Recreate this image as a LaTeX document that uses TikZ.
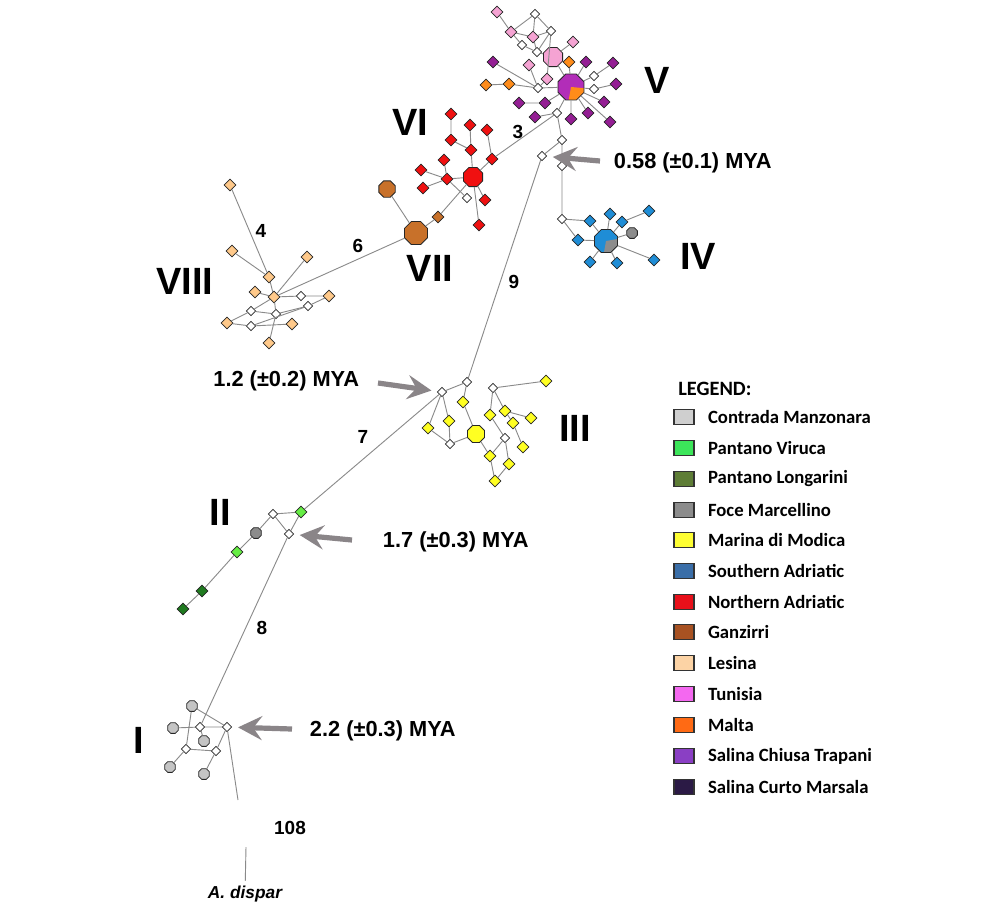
\documentclass[tikz,border=0pt]{standalone}
\usepackage{fontspec}
\setmainfont{Liberation Sans}
\newfontfamily\legfont{Carlito}
\usetikzlibrary{arrows.meta,positioning,shapes.geometric}

\definecolor{edgegray}{HTML}{8A8A8A}
\definecolor{arrowgray}{HTML}{8A8588}
\definecolor{manzN}{HTML}{C4C4C4}
\definecolor{virucaN}{HTML}{66EE44}
\definecolor{longN}{HTML}{1F7A1F}
\definecolor{foceN}{HTML}{8C8C8C}
\definecolor{modicaN}{HTML}{FFFF22}
\definecolor{sadrN}{HTML}{1F8DD6}
\definecolor{nadrN}{HTML}{F01010}
\definecolor{ganzN}{HTML}{C8712A}
\definecolor{lesN}{HTML}{FFC98A}
\definecolor{tunN}{HTML}{F5A3D3}
\definecolor{maltaN}{HTML}{FF8C1A}
\definecolor{chiusaN}{HTML}{941E94}
\definecolor{centreN}{HTML}{B22DB8}
\definecolor{manzL}{HTML}{CFCFCF}
\definecolor{virucaL}{HTML}{3CE65A}
\definecolor{longL}{HTML}{5E7D36}
\definecolor{foceL}{HTML}{8C8C8C}
\definecolor{modicaL}{HTML}{FFFF33}
\definecolor{sadrL}{HTML}{3A6EA8}
\definecolor{nadrL}{HTML}{E8101A}
\definecolor{ganzL}{HTML}{A85222}
\definecolor{lesL}{HTML}{FCD3A5}
\definecolor{tunL}{HTML}{F468F0}
\definecolor{maltaL}{HTML}{FF6A14}
\definecolor{chiusaL}{HTML}{8A3FC4}
\definecolor{curtoL}{HTML}{2B1A45}

\begin{document}
\begin{tikzpicture}[x=0.025cm,y=-0.025cm,
hap/.style={diamond,draw=black!85,line width=0.55pt,minimum size=0.3cm,inner sep=0pt},
mv/.style={diamond,draw=black!85,line width=0.55pt,fill=white,minimum size=0.24cm,inner sep=0pt},
octa/.style={regular polygon,regular polygon sides=8,draw=black!85,line width=0.55pt,minimum size=0.29cm,inner sep=0pt},
big/.style={octa,minimum size=#1},
edge/.style={draw=edgegray,line width=0.65pt},
mya/.style={draw=arrowgray,line width=0.13cm,-{Stealth[length=0.6cm,width=0.6cm,inset=0.22cm]},shorten >=0.15cm},
clade/.style={font=\fontsize{27}{30}\selectfont\bfseries},
steps/.style={font=\fontsize{13.5}{16}\selectfont\bfseries},
age/.style={font=\fontsize{15.5}{18}\selectfont\bfseries},
legbox/.style={draw=black!80,line width=0.8pt,minimum width=0.5cm,minimum height=0.36cm,inner sep=0pt},
legtext/.style={font=\legfont\fontsize{13.3}{16}\selectfont\bfseries,inner sep=0pt,label distance=0.33cm}]

\useasboundingbox[fill=white] (0,0) rectangle (999,917);

% clade V
\node[hap,fill=tunN] (t1) at (497,12) {};
\node[mv] (v1) at (535,14) {};
\node[hap,fill=tunN] (t2) at (511,32) {};
\node[hap,fill=tunN] (t3) at (533,37) {};
\node[mv] (v2) at (551,31) {};
\node[mv] (v3) at (522,45) {};
\node[mv] (v4) at (537,52) {};
\node[hap,fill=tunN] (t4) at (573,42) {};
\node[big=0.52cm,fill=tunN] (tB) at (553,57) {};
\node[hap,fill=chiusaN] (s1) at (493,62) {};
\node[hap,fill=tunN] (t5) at (529,65) {};
\node[hap,fill=maltaN] (m1) at (569,62) {};
\node[hap,fill=chiusaN] (s2) at (586,62) {};
\node[hap,fill=chiusaN] (s3) at (613,63) {};
\node[mv] (v5) at (594,76) {};
\node[hap,fill=tunN] (t6) at (547,79) {};
\node[hap,fill=maltaN] (m2) at (486,85) {};
\node[hap,fill=maltaN] (m3) at (509,84) {};
\node[mv] (v6) at (538,88) {};
\node[big=0.7cm,fill=centreN,path picture={\fill[maltaN] (path picture bounding box.center) -- ++(-100:0.5cm) arc[start angle=-100,end angle=-5,radius=0.5cm] -- cycle;}] (cV) at (571,87) {};
\node[mv] (v7) at (594,89) {};
\node[hap,fill=chiusaN] (s4) at (616,84) {};
\node[hap,fill=chiusaN] (s5) at (519,103) {};
\node[hap,fill=chiusaN] (s6) at (545,103) {};
\node[hap,fill=chiusaN] (s7) at (604,102) {};
\node[mv] (v8) at (557,113) {};
\node[hap,fill=chiusaN] (s8) at (535,117) {};
\node[hap,fill=chiusaN] (s9) at (571,119) {};
\node[hap,fill=chiusaN] (s10) at (588,113) {};
\node[hap,fill=chiusaN] (s11) at (610,122) {};
\node[mv] (v9) at (562,140) {};
\node[mv] (v10) at (542,156) {};
\node[mv] (v11) at (562,166) {};

\draw[edge] (t1)--(t2) (v1)--(t2) (v1)--(v2) (v1)--(t3) (t2)--(t3) (t3)--(v2);
\draw[edge] (t2)--(v3) (v3)--(v4) (t3)--(v4) (v2)--(v4) (v2)--(t6) (v4)--(tB);
\draw[edge] (t4)--(tB) (tB)--(cV) (s1)--(v6) (t5)--(v6) (t6)--(v6) (m2)--(m3);
\draw[edge] (m3)--(v6) (v6)--(cV) (m1)--(cV) (s2)--(cV) (s3)--(v5) (v5)--(cV);
\draw[edge] (s4)--(v7) (v7)--(cV) (s5)--(s6) (s6)--(cV) (s7)--(cV) (s9)--(cV);
\draw[edge] (s10)--(cV) (s11)--(cV) (v8)--(s8) (v8)--(cV) (v8)--(v9);
\draw[edge] (v9)--(v10) (v9)--(v11);

% clades VI and VII
\node[hap,fill=nadrN] (r1) at (451,114) {};
\node[hap,fill=nadrN] (r2) at (470,125) {};
\node[hap,fill=nadrN] (r3) at (487,130) {};
\node[hap,fill=nadrN] (r4) at (451,140) {};
\node[hap,fill=nadrN] (r5) at (471,150) {};
\node[hap,fill=nadrN] (r6) at (492,159) {};
\node[hap,fill=nadrN] (r7) at (444,160) {};
\node[hap,fill=nadrN] (r8) at (421,170) {};
\node[big=0.52cm,fill=nadrN] (rB) at (473,177) {};
\node[hap,fill=nadrN] (r9) at (447,179) {};
\node[hap,fill=nadrN] (r10) at (423,188) {};
\node[mv] (vr) at (467,198) {};
\node[hap,fill=nadrN] (r11) at (485,200) {};
\node[hap,fill=nadrN] (r12) at (479,225) {};
\node[big=0.44cm,fill=ganzN] (br) at (387,189) {};
\node[hap,fill=ganzN] (o4) at (438,217) {};
\node[big=0.62cm,fill=ganzN] (oB) at (416,233) {};

\draw[edge] (r1)--(r4) (r2)--(r5) (r3)--(r6) (r4)--(r5) (r5)--(rB) (r6)--(rB);
\draw[edge] (r7)--(r9) (r8)--(r9) (r10)--(r9) (r9)--(rB) (r9)--(vr) (rB)--(r11);
\draw[edge] (rB)--(r12) (rB)--(o4) (o4)--(oB) (br)--(oB) (v8)--(r6);

% clade VIII
\node[hap,fill=lesN] (l1) at (230,185) {};
\node[hap,fill=lesN] (l2) at (232,251) {};
\node[hap,fill=lesN] (l3) at (307,257) {};
\node[hap,fill=lesN] (l4) at (269,277) {};
\node[hap,fill=lesN] (l5) at (255,292) {};
\node[hap,fill=lesN] (l6) at (274,297) {};
\node[mv] (vl1) at (301,296) {};
\node[hap,fill=lesN] (l7) at (329,296) {};
\node[mv] (vl2) at (251,311) {};
\node[mv] (vl3) at (276,314) {};
\node[mv] (vl4) at (308,306) {};
\node[hap,fill=lesN] (l8) at (227,323) {};
\node[mv] (vl5) at (251,326) {};
\node[hap,fill=lesN] (l9) at (292,324) {};
\node[hap,fill=lesN] (l10) at (269,343) {};

\draw[edge] (l1)--(l4) (l2)--(l4) (l4)--(l6) (l5)--(l6) (l3)--(l6) (l6)--(vl1);
\draw[edge] (vl1)--(l7) (l6)--(vl2) (vl2)--(l8) (vl2)--(vl3) (vl3)--(vl4) (vl4)--(l7);
\draw[edge] (l8)--(vl5) (vl5)--(l9) (vl5)--(vl4) (l6)--(vl3) (vl3)--(l10) (l6)--(oB);

% clade IV
\node[mv] (vb) at (562,219) {};
\node[hap,fill=sadrN] (b1) at (590,221) {};
\node[hap,fill=sadrN] (b2) at (610,214) {};
\node[hap,fill=sadrN] (b3) at (622,222) {};
\node[hap,fill=sadrN] (b4) at (649,211) {};
\node[octa,fill=foceN] (gm) at (632,233) {};
\node[hap,fill=sadrN] (b5) at (578,240) {};
\node[big=0.62cm,fill=sadrN,path picture={\fill[foceN] (path picture bounding box.center) -- ++(-100:0.5cm) arc[start angle=-100,end angle=10,radius=0.5cm] -- cycle;}] (bB) at (606,241) {};
\node[hap,fill=sadrN] (b6) at (590,262) {};
\node[hap,fill=sadrN] (b7) at (617,263) {};
\node[hap,fill=sadrN] (b8) at (654,260) {};

\draw[edge] (v11)--(vb) (vb)--(b1) (b1)--(bB) (vb)--(b5) (b5)--(bB) (b2)--(bB);
\draw[edge] (b3)--(bB) (b3)--(b4) (gm)--(bB) (b8)--(bB) (b6)--(bB) (b7)--(bB);

% clade III
\node[mv] (vy1) at (442,392) {};
\node[mv] (vy2) at (467,382) {};
\node[mv] (vy3) at (493,388) {};
\node[hap,fill=modicaN] (y1) at (546,381) {};
\node[hap,fill=modicaN] (y2) at (463,402) {};
\node[hap,fill=modicaN] (y3) at (490,415) {};
\node[hap,fill=modicaN] (y4) at (505,411) {};
\node[hap,fill=modicaN] (y5) at (449,421) {};
\node[hap,fill=modicaN] (y6) at (513,423) {};
\node[hap,fill=modicaN] (y7) at (531,418) {};
\node[hap,fill=modicaN] (y8) at (428,428) {};
\node[big=0.46cm,fill=modicaN] (yB) at (476,434) {};
\node[mv] (vy4) at (505,438) {};
\node[mv] (vy5) at (450,444) {};
\node[hap,fill=modicaN] (y9) at (523,447) {};
\node[hap,fill=modicaN] (y10) at (490,456) {};
\node[hap,fill=modicaN] (y11) at (509,464) {};
\node[hap,fill=modicaN] (y12) at (495,481) {};

\draw[edge] (v10)--(vy2) (vy1)--(vy2) (vy1)--(y8) (vy1)--(y5) (y5)--(vy5) (y8)--(vy5);
\draw[edge] (vy5)--(yB) (vy2)--(y2) (y2)--(yB) (yB)--(y10) (vy3)--(y3) (vy3)--(y4);
\draw[edge] (vy3)--(y1) (y4)--(y7) (y4)--(y6) (y6)--(y9) (y3)--(vy4) (vy4)--(y10);
\draw[edge] (vy4)--(y11) (y10)--(y12) (y11)--(y12);

% clade II
\node[mv] (vg1) at (273,514) {};
\node[hap,fill=virucaN] (g1) at (301,512) {};
\node[mv] (vg2) at (289,534) {};
\node[octa,fill=foceN] (gf) at (256,533) {};
\node[hap,fill=virucaN] (g2) at (237,552) {};
\node[hap,fill=longN] (g3) at (202,591) {};
\node[hap,fill=longN] (g4) at (183,609) {};

\draw[edge] (g1)--(vy1) (g1)--(vg1) (vg1)--(vg2) (g1)--(vg2) (vg1)--(gf);
\draw[edge] (gf)--(g2) (g2)--(g3) (g3)--(g4);

% clade I and outgroup
\node[octa,fill=manzN] (c1) at (192,706) {};
\node[octa,fill=manzN] (c2) at (173,728) {};
\node[mv] (vc1) at (200,727) {};
\node[mv] (vc2) at (227,727) {};
\node[octa,fill=manzN] (c3) at (204,741) {};
\node[mv] (vc3) at (186,749) {};
\node[mv] (vc4) at (216,751) {};
\node[octa,fill=manzN] (c4) at (170,767) {};
\node[octa,fill=manzN] (c5) at (204,774) {};
\coordinate (og1) at (238,800);
\coordinate (og2) at (246,847);
\node[font=\fontsize{12.3}{14}\selectfont\bfseries\itshape] (disp) at (245,894) {A. dispar};

\draw[edge] (vg2)--(vc1) (c1)--(vc2) (c1)--(vc3) (c2)--(vc1) (vc1)--(vc2) (vc1)--(c3);
\draw[edge] (vc3)--(vc4) (vc2)--(vc4) (vc3)--(c4) (vc4)--(c5) (vc2)--(og1) (og2)--(disp);

% clade names and mutation steps
\node[clade] (nV) at (657,80) {V};
\node[clade] (nVI) at (410,122) {VI};
\node[clade] (nVII) at (430,268) {VII};
\node[clade] (nVIII) at (185,281) {VIII};
\node[clade] (nIV) at (698,256) {IV};
\node[clade] (nIII) at (575,428) {III};
\node[clade] (nII) at (220,512) {II};
\node[clade] (nI) at (139,740) {I};
\node[steps] at (518,132) {3};
\node[steps] at (358,246) {6};
\node[steps] at (261,231) {4};
\node[steps] at (514,282) {9};
\node[steps] at (363,437) {7};
\node[steps] at (262,628) {8};
\node[steps] at (290,828) {108};

% divergence times
\coordinate (a1) at (600,161);
\coordinate (a2) at (378,383);
\coordinate (a3) at (352,540);
\coordinate (a4) at (292,729);
\draw[mya] (a1)--(v10);
\draw[mya] (a2)--(vy1);
\draw[mya] (a3)--(vg2);
\draw[mya] (a4)--(vc2);
\node[age,anchor=west] at (609,163) {0.58 (±0.1) MYA};
\node[age,anchor=east] at (364,381) {1.2 (±0.2) MYA};
\node[age,anchor=west] at (378,542) {1.7 (±0.3) MYA};
\node[age,anchor=west] at (305,731) {2.2 (±0.3) MYA};

% legend
\node[legtext,anchor=west,font=\legfont\fontsize{14.5}{17}\selectfont\bfseries] at (678,389) {LEGEND:};
\node[legbox,fill=manzL,label={[legtext]right:Contrada Manzonara}] (k1) at (684,417) {};
\node[legbox,fill=virucaL,label={[legtext]right:Pantano Viruca}] (k2) at (684,448) {};
\node[legbox,fill=longL,label={[legtext]right:Pantano Longarini}] (k3) at (684,479) {};
\node[legbox,fill=foceL,label={[legtext]right:Foce Marcellino}] (k4) at (684,510) {};
\node[legbox,fill=modicaL,label={[legtext]right:Marina di Modica}] (k5) at (684,540) {};
\node[legbox,fill=sadrL,label={[legtext]right:Southern Adriatic}] (k6) at (684,571) {};
\node[legbox,fill=nadrL,label={[legtext]right:Northern Adriatic}] (k7) at (684,602) {};
\node[legbox,fill=ganzL,label={[legtext]right:Ganzirri}] (k8) at (684,632) {};
\node[legbox,fill=lesL,label={[legtext]right:Lesina}] (k9) at (684,663) {};
\node[legbox,fill=tunL,label={[legtext]right:Tunisia}] (k10) at (684,694) {};
\node[legbox,fill=maltaL,label={[legtext]right:Malta}] (k11) at (684,725) {};
\node[legbox,fill=chiusaL,label={[legtext]right:Salina Chiusa Trapani}] (k12) at (684,756) {};
\node[legbox,fill=curtoL,label={[legtext]right:Salina Curto Marsala}] (k13) at (684,787) {};
\end{tikzpicture}
\end{document}
